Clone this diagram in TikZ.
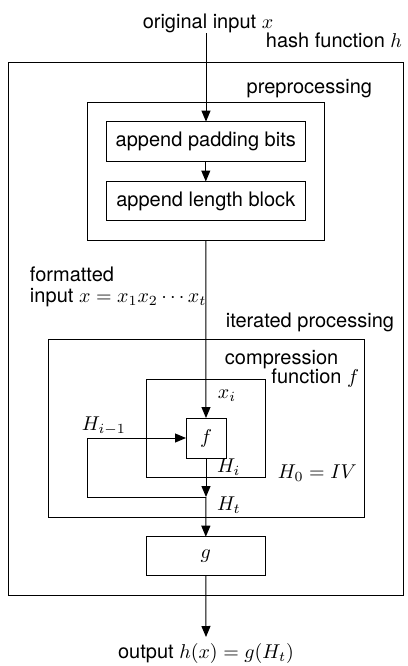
\documentclass[tikz,border=0pt]{standalone}
\usepackage[no-math]{fontspec}
\setmainfont{TeX Gyre Heros}
\usetikzlibrary{arrows.meta}
\begin{document}
\begin{tikzpicture}[x=0.5pt,y=-0.5pt,
  box/.style={draw, line width=0.5pt, inner sep=0pt, outer sep=0pt},
  arr/.style={-{Triangle[width=4.5pt,length=5.5pt]}, line width=0.5pt},
  lbl/.style={inner sep=0pt, outer sep=0pt, anchor=base}]
\useasboundingbox (0,0) rectangle (408,666);
% boxes
\node[box, minimum width=197.5pt, minimum height=266.5pt] (hash) at (205.8,328.5) {};
\node[box, minimum width=118.3pt, minimum height=68.7pt] (pre) at (205.8,171.3) {};
\node[box, minimum width=99.2pt, minimum height=19.7pt] (pad) at (205.8,141.3) {append padding bits};
\node[box, minimum width=99.2pt, minimum height=19.7pt] (len) at (205.8,201.2) {append length block};
\node[box, minimum width=157.8pt, minimum height=89pt] (iter) at (206.2,428) {};
\node[box, minimum width=59.2pt, minimum height=49pt] (comp) at (205.8,428) {};
\node[box, minimum width=20pt, minimum height=20pt] (f) at (206,438) {$f$};
\node[box, minimum width=59.2pt, minimum height=19.5pt] (g) at (205.8,556.2) {$g$};
% coordinates
\coordinate (in) at (206,33);
\coordinate (j) at (206,497);
\coordinate (fb) at (87,497);
\coordinate (out) at (206,637);
% connectors
\draw[arr] (in) -- (in |- pad.north);
\draw[arr] (pad) -- (len);
\draw[arr] (pre.south) -- (f.north);
\draw[arr] (f.south) -- (j);
\draw[arr] (j) -- (g.north);
\draw[arr] (j) -- (fb) |- (f.west);
\draw[arr] (g.south) -- (out);
% labels
\node[lbl] (tin) at (208,28) {original input $x$};
\node[lbl, anchor=base east] (thash) at (402,47) {hash function $h$};
\node[lbl, anchor=base east] (tpre) at (372,93) {preprocessing};
\node[lbl, anchor=base west] (tfmt1) at (30,281) {formatted};
\node[lbl, anchor=base west] (tfmt2) at (30,302) {input $x=x_1x_2\cdots x_t$};
\node[lbl, anchor=base east] (titer) at (394,327) {iterated processing};
\node[lbl, anchor=base west] (tcomp1) at (225,364) {compression};
\node[lbl, anchor=base east] (tcomp2) at (359,383) {function $f$};
\node[lbl, anchor=base west] (txi) at (218,398) {$x_i$};
\node[lbl, anchor=base west] (thim) at (82,430) {$H_{i-1}$};
\node[lbl, anchor=base west] (thi) at (217,472) {$H_i$};
\node[lbl, anchor=base west] (th0) at (278,478) {$H_0=IV$};
\node[lbl, anchor=base west] (tht) at (217,510) {$H_t$};
\node[lbl] (tout) at (206,658) {output $h(x)=g(H_t)$};
\end{tikzpicture}
\end{document}
